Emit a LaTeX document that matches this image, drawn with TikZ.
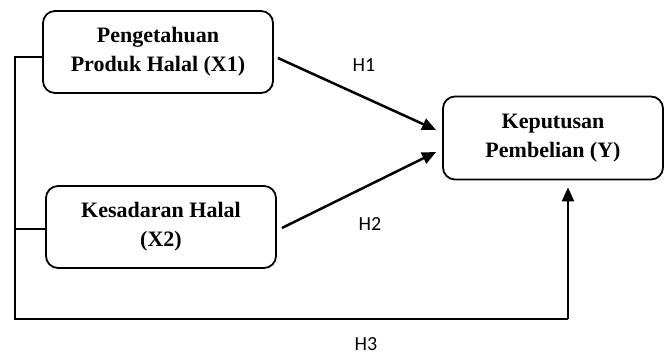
\documentclass[tikz,border=0pt]{standalone}
\usepackage{fontspec}
\setmainfont{Liberation Serif}
\newfontfamily\hfont{Carlito}
\usetikzlibrary{arrows.meta}
\begin{document}
\begin{tikzpicture}[x=1pt,y=-1pt,
 box/.style={draw, line width=1.8pt, rounded corners=12pt, align=center,
   font=\fontsize{22}{29}\selectfont\bfseries, inner sep=0pt},
 link/.style={line width=2.5pt},
 arr/.style={link, -{Triangle[length=14pt,width=12pt]}},
 hlab/.style={font=\hfont\fontsize{20}{24}\selectfont, inner sep=0pt}]
\useasboundingbox (0,0) rectangle (665,354);
\node[box, minimum width=230pt, minimum height=82pt] (x1) at (158,52) {Pengetahuan\\Produk Halal (X1)};
\node[box, minimum width=230pt, minimum height=82pt] (x2) at (161,227) {Kesadaran Halal\\(X2)};
\node[box, minimum width=220pt, minimum height=83pt] (y) at (553,138) {Keputusan\\Pembelian (Y)};
\coordinate (c1) at (15,57);
\coordinate (c2) at (15,229);
\coordinate (c3) at (15,319);
\coordinate (c4) at (568,319);
\draw[link] (c1 -| x1.west) -- (c1) -- (c3) -- (c4);
\draw[link] (c2 -| x2.west) -- (c2);
\draw[arr, shorten >=7pt] (c4) -- (c4 |- y.south);
\draw[arr] ([shift={(4,6)}]x1.east) -- ([shift={(-6,-8)}]y.west);
\draw[arr] ([shift={(5,1)}]x2.east) -- ([shift={(-6,14)}]y.west);
\node[hlab] (h1) at (364,65) {H1};
\node[hlab] (h2) at (370,224) {H2};
\node[hlab] (h3) at (366,344) {H3};
\end{tikzpicture}
\end{document}
